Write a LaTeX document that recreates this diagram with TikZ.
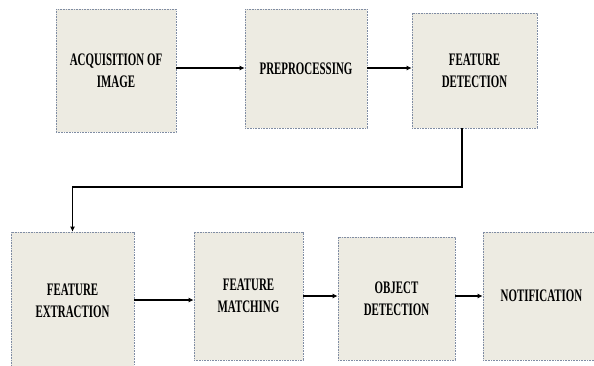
\documentclass[tikz,border=0pt]{standalone}
\usepackage{fontspec}
\newfontfamily\boxfont{Liberation Serif}[FakeStretch=0.62]
\usetikzlibrary{arrows.meta}
\definecolor{boxfill}{HTML}{EDEBE2}
\definecolor{boxline}{HTML}{7F8CA3}
\begin{document}
\begin{tikzpicture}[x=1pt,y=-1pt,
  stage/.style={draw=boxline, fill=boxfill, line width=0.7pt,
    dash pattern=on 1pt off 0.6pt, inner sep=0pt, align=center,
    font=\boxfont\bfseries\fontsize{17.6}{22}\selectfont},
  arr/.style={draw=black, line width=1.6pt,
    -{Latex[length=5pt,width=5pt]}}]
\useasboundingbox (0,0) rectangle (594,365);
\clip (0,0) rectangle (594,365);
% top row
\node[stage, minimum width=120pt, minimum height=123pt] (b1) at (116,70.5) {ACQUISITION OF\\IMAGE};
\node[stage, minimum width=122pt, minimum height=119pt] (b2) at (306,68.5) {PREPROCESSING};
\node[stage, minimum width=125pt, minimum height=115pt] (b3) at (474.5,70.5) {FEATURE\\DETECTION};
% bottom row
\node[stage, minimum width=123pt, minimum height=138pt] (b4) at (72.5,301) {FEATURE\\EXTRACTION};
\node[stage, minimum width=109pt, minimum height=128pt] (b5) at (248.5,296) {FEATURE\\MATCHING};
\node[stage, minimum width=117pt, minimum height=123pt] (b6) at (396.5,298.5) {OBJECT\\DETECTION};
\node[stage, minimum width=117pt, minimum height=128pt] (b7) at (541.5,296) {NOTIFICATION};
% connectors
\coordinate (bend) at (462,187);
\draw[arr] (b1.east |- 0,68) -- (b2.west |- 0,68);
\draw[arr] (b2.east |- 0,68) -- (b3.west |- 0,68);
\draw[arr] (b3.south -| bend) -- (bend) -| (b4.north);
\draw[arr] (b4.east |- 0,300) -- (b5.west |- 0,300);
\draw[arr] (b5.east |- 0,296) -- (b6.west |- 0,296);
\draw[arr] (b6.east |- 0,296) -- (b7.west |- 0,296);
\end{tikzpicture}
\end{document}
